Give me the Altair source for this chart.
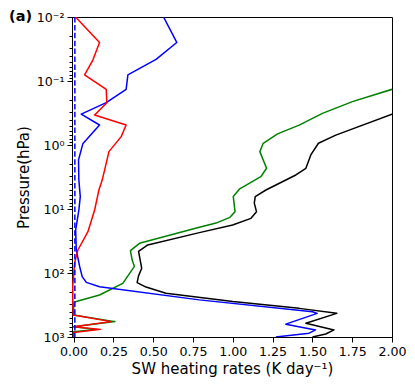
import altair as alt
import pandas as pd

# ---- data (pressure hPa, heating rate K/day) ----
black_p = [0.24, 0.33, 0.70, 0.94, 1.43, 2.31, 2.94, 5.05, 6.4, 8.1, 11, 14, 17.8, 23.4,
           36.5, 46, 84.5, 111, 141, 166, 207, 280, 357, 427, 611, 776, 898, 1000]
black_x = [2.15, 2.0, 1.647, 1.538, 1.49, 1.459, 1.396, 1.208, 1.141, 1.135, 1.149, 1.114, 0.999, 0.79,
           0.466, 0.408, 0.428, 0.408, 0.399, 0.455, 0.58, 1.0, 1.417, 1.653, 1.459, 1.636, 1.584, 1.5]

green_p = [0.10, 0.135, 0.21, 0.32, 0.49, 0.67, 0.94, 1.27, 2.31, 3.13, 4.9, 6.4, 11, 13.5, 16.6, 19.3,
           34.4, 44.7, 62.7, 79, 145, 221, 287, 453, 575, 690, 760, 826, 1000]
green_x = [2.15, 2.0, 1.751, 1.563, 1.417, 1.281, 1.191, 1.17, 1.212, 1.176, 1.041, 1.003, 1.014, 0.982, 0.895, 0.79,
           0.414, 0.357, 0.368, 0.382, 0.309, 0.163, 0.0, 0.0, 0.26, 0.0, 0.14, 0.0, 0.0]

blue_p = [0.01, 0.025, 0.046, 0.08, 0.135, 0.218, 0.33, 0.487, 0.96, 1.71, 3.5, 6.4, 10.4, 21.3, 43.7,
          79, 114, 140, 164, 263, 403, 427, 630, 776, 871, 1000]
blue_x = [0.565, 0.648, 0.518, 0.341, 0.33, 0.205, 0.048, 0.163, 0.058, 0.031, 0.033, 0.042, 0.033, 0.013, 0.017,
          0.038, 0.054, 0.08, 0.163, 0.79, 1.50, 1.53, 1.333, 1.52, 1.48, 1.27]

red_p = [0.01, 0.025, 0.047, 0.08, 0.135, 0.218, 0.34, 0.487, 0.74, 1.27, 2.18, 3.5, 5.05, 10.4, 22.6,
         43.7, 70, 155, 300, 453, 575, 690, 760, 850, 1000]
red_x = [0.012, 0.163, 0.121, 0.069, 0.205, 0.209, 0.132, 0.33, 0.299, 0.222, 0.2, 0.18, 0.159, 0.132, 0.09,
         0.027, 0.006, -0.005, -0.005, -0.002, 0.235, 0.0, 0.17, 0.0, 0.0]

dash_p = [0.01, 1000]
dash_x = [0.008, 0.008]

x_ticks = [0.0, 0.25, 0.5, 0.75, 1.0, 1.25, 1.5, 1.75, 2.0]
y_ticks = [float(f"{m * 10.0 ** e:.6g}") for e in range(-2, 3) for m in range(1, 10)] + [1000.0]
y_major_labels = ["10⁻²", "10⁻¹", "10⁰", "10¹", "10²", "10³"]


def frame(ps, xs):
    return pd.DataFrame({"p": ps, "x": xs, "i": list(range(len(ps)))})


FONT = "DejaVu Sans"
is_major = "abs(log(datum.value)/LN10 - round(log(datum.value)/LN10)) < 1e-6"
label_list = "[" + ",".join(f"'{s}'" for s in y_major_labels) + "]"
label_expr = f"({is_major}) ? {label_list}[round(log(datum.value)/LN10)+2] : ''"

x_scale = alt.Scale(domain=[-0.01, 2.0], nice=False, zero=False)
y_scale = alt.Scale(type="log", domain=[0.01, 1000], reverse=True, nice=False)

x_axis = alt.Axis(values=x_ticks, format=".2f", title="SW heating rates (K day⁻¹)",
                  tickSize=5, tickColor="black", labelPadding=3, labelFontSize=12.6,
                  labelColor="black", labelFlush=False, labelOverlap=False,
                  titleFontSize=15, titleFontWeight="normal", titleColor="black",
                  titlePadding=4, grid=False, domainColor="black")
y_axis = alt.Axis(values=y_ticks, labelExpr=label_expr, title="Pressure(hPa)",
                  tickSize={"condition": {"test": is_major, "value": 5}, "value": 3},
                  tickColor="black", labelPadding=3, labelFontSize=12.6, labelColor="black",
                  labelFlush=False, labelOverlap=False,
                  titleFontSize=15, titleFontWeight="normal", titleColor="black",
                  titlePadding=5, grid=False, domainColor="black")


def line(df, color, dash=None):
    kw = dict(strokeWidth=1.5, clip=True, color=color, strokeJoin="round")
    if dash:
        kw["strokeDash"] = dash
    return alt.Chart(df).mark_line(**kw).encode(
        x=alt.X("x:Q", scale=x_scale, axis=x_axis),
        y=alt.Y("p:Q", scale=y_scale, axis=y_axis),
        order=alt.Order("i:Q"),
    )


label = alt.Chart(pd.DataFrame({"t": ["(a)"]})).mark_text(
    align="left", baseline="alphabetic", fontSize=14.5, fontWeight="bold", font=FONT, color="black"
).encode(text="t:N", x=alt.value(-63), y=alt.value(3.5))

chart = alt.layer(
    line(frame(black_p, black_x), "black"),
    line(frame(green_p, green_x), "green"),
    line(frame(blue_p, blue_x), "blue"),
    line(frame(red_p, red_x), "red"),
    line(frame(dash_p, dash_x), "blue", dash=[5.5, 2.4]),
    label,
).properties(
    width=320, height=320,
    autosize=alt.AutoSizeParams(type="none"),
    padding={"left": 64, "top": 9, "right": 15, "bottom": 45},
).configure(font=FONT).configure_view(stroke="black", strokeWidth=1)

chart.save("out.html", embed_options={"renderer": "svg", "actions": False})
